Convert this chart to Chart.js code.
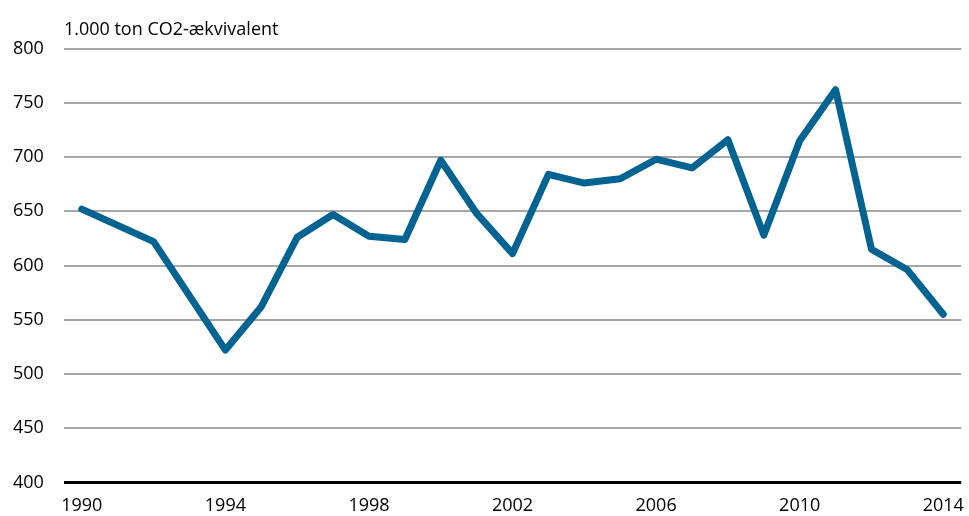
<!DOCTYPE html>
<html>
<head>
<meta charset="utf-8">
<script src="https://cdn.jsdelivr.net/npm/chart.js@4/dist/chart.umd.min.js"></script>
<style>
  html, body { margin: 0; padding: 0; background: #fff; }
  #wrap { width: 969px; height: 516px; }
</style>
</head>
<body>
<div id="wrap"><canvas id="js--chart"></canvas></div>
<script>
// aar og udledning (1.000 ton CO2-aekvivalent)
const years = ['1990', '1991', '1992', '1993', '1994', '1995', '1996', '1997', '1998', '1999',
    '2000', '2001', '2002', '2003', '2004', '2005', '2006', '2007', '2008', '2009',
    '2010', '2011', '2012', '2013', '2014'];
const emissions = [652, 637, 622, 572, 522, 562, 626, 647, 627, 624,
    697, 648, 611, 684, 676, 680, 698, 690, 716, 628,
    715, 762, 615, 596, 555];
const yTicks = [400, 450, 500, 550, 600, 650, 700, 750, 800];

const fontName = "'Liberation Sans Narrow', 'Open Sans', sans-serif";

const ctx = document.getElementById('js--chart');

new Chart(ctx, {
    type: 'line',
    data: {
        labels: years,
        datasets: [{
            label: 'Udledning',
            data: emissions,
            borderColor: '#006391',
            borderWidth: 7,
            borderJoinStyle: 'round',
            borderCapStyle: 'round',
            pointRadius: 0,
            tension: 0
        }]
    },
    options: {
        responsive: true,
        maintainAspectRatio: false,
        animation: false,
        layout: {
            padding: { left: -7, right: -8, top: 0, bottom: -6 }
        },
        plugins: {
            legend: { display: false },
            tooltip: { enabled: false },
            title: {
                display: true,
                text: '1.000 ton CO2-ækvivalent',
                align: 'start',
                fullSize: false,
                color: '#000',
                font: { family: fontName, size: 18, weight: 'normal' },
                padding: { top: 19, bottom: 8 }
            }
        },
        scales: {
            x: {
                offset: true,
                grid: { display: false },
                border: { display: false },
                ticks: {
                    autoSkip: false,
                    maxRotation: 0,
                    color: '#000',
                    padding: 5,
                    font: { family: fontName, size: 18 },
                    callback: function (value, index) {
                        return index % 4 === 0 ? years[index] : '';
                    }
                }
            },
            y: {
                min: 400,
                max: 800,
                afterBuildTicks: function (axis) {
                    axis.ticks = yTicks.map(v => ({ value: v }));
                },
                border: { display: false },
                grid: {
                    drawTicks: false,
                    color: c => c.tick && c.tick.value === 400 ? '#000' : '#a6a6a6',
                    lineWidth: c => c.tick && c.tick.value === 400 ? 3 : 2
                },
                ticks: {
                    color: '#000',
                    padding: 20,
                    font: { family: fontName, size: 18 }
                }
            }
        }
    }
});
</script>
</body>
</html>
